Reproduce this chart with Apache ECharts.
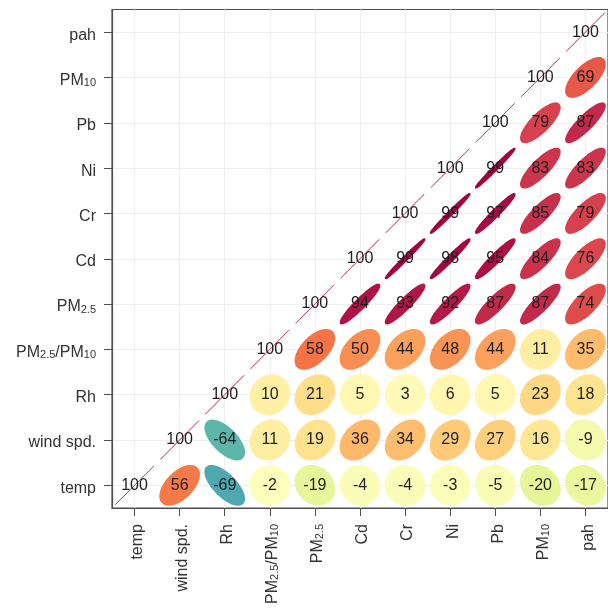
<!DOCTYPE html>
<html>
<head>
<meta charset="utf-8">
<script src="https://cdn.jsdelivr.net/npm/echarts@6/dist/echarts.min.js"></script>
<style>
  html, body { margin: 0; padding: 0; background: #ffffff; }
  #chart { width: 608px; height: 611px; }
</style>
</head>
<body>
<div id="chart"></div>
<script>
// Variable order, shared by both axes (bottom-to-top on y, left-to-right on x)
const variables = ['temp', 'wind spd.', 'Rh', 'PM2.5/PM10', 'PM2.5', 'Cd', 'Cr', 'Ni', 'Pb', 'PM10', 'pah'];

// Correlations x100: each row variable against itself and every variable to its right
const corTemp  = [100, 56, -69, -2, -19, -4, -4, -3, -5, -20, -17];
const corWind  = [100, -64, 11, 19, 36, 34, 29, 27, 16, -9];
const corRh    = [100, 10, 21, 5, 3, 6, 5, 23, 18];
const corRatio = [100, 58, 50, 44, 48, 44, 11, 35];
const corPM25  = [100, 94, 93, 92, 87, 87, 74];
const corCd    = [100, 99, 98, 95, 84, 76];
const corCr    = [100, 99, 97, 85, 79];
const corNi    = [100, 99, 83, 83];
const corPb    = [100, 79, 87];
const corPM10  = [100, 69];
const corPah   = [100];

// Reversed "Spectral" palette from -1 to +1
const spectralRev = ['#5e4fa2', '#3288bd', '#66c2a5', '#abdda4', '#e6f598', '#ffffbf',
                     '#fee08b', '#fdae61', '#f46d43', '#d53e4f', '#9e0142'];

const rows = [corTemp, corWind, corRh, corRatio, corPM25, corCd, corCr, corNi, corPb, corPM10, corPah];
const cells = [];
rows.forEach((row, i) => row.forEach((v, k) => cells.push([i + k, i, v])));

const positions = variables.map((_, i) => i);

// Turn "PM2.5" / "PM10" into rich text with subscripts
function toRich(name) {
  return name.split(/(PM2\.5|PM10)/).filter(Boolean).map(p => {
    const m = p.match(/^PM(2\.5|10)$/);
    return m ? '{n|PM}{s|' + m[1] + '}' : '{n|' + p + '}';
  }).join('');
}

const FONT = '"Liberation Sans", Arial, sans-serif';
const labelRich = {
  n: { fontSize: 16, color: '#333333', lineHeight: 22, verticalAlign: 'bottom', fontFamily: FONT },
  s: { fontSize: 11, color: '#333333', lineHeight: 11, verticalAlign: 'bottom', fontFamily: FONT }
};

// Confidence ellipse of a bivariate normal with correlation r (level 0.9, scale 0.2 cell)
const LEVEL_T = Math.sqrt(-2 * Math.log(1 - 0.9));
const SCALE = 0.2;

function renderItem(params, api) {
  const v = api.value(2);
  const c = api.coord([api.value(0), api.value(1)]);
  const sz = api.size([1, 1]);
  const r = Math.max(-1, Math.min(1, v / 100));
  const d = Math.acos(r);
  const pts = [];
  const n = 60;
  for (let k = 0; k < n; k++) {
    const a = 2 * Math.PI * k / n;
    const ex = LEVEL_T * SCALE * Math.cos(a + d / 2);
    const ey = LEVEL_T * SCALE * Math.cos(a - d / 2);
    pts.push([c[0] + ex * sz[0], c[1] - ey * sz[1]]);
  }
  const color = api.visual('color');
  const degenerate = Math.abs(r) >= 1;
  return {
    type: 'group',
    children: [
      {
        type: 'polygon', shape: { points: pts },
        style: degenerate
          ? { fill: 'none', stroke: color, lineWidth: 1, opacity: 0.5 }
          : { fill: color, stroke: color, lineWidth: 2 }
      },
      {
        type: 'text',
        style: {
          text: String(v), x: c[0], y: c[1], align: 'center', verticalAlign: 'middle',
          fill: '#1e1e1e', fontSize: 16, fontFamily: FONT
        }
      }
    ]
  };
}

function axisCommon(rotate) {
  return {
    type: 'value',
    min: -0.5,
    max: 10.5,
    axisLine: { show: true, onZero: false, lineStyle: { color: '#4d4d4d', width: 1.2 } },
    axisTick: { show: true, inside: false, length: 8, customValues: positions, lineStyle: { color: '#4d4d4d', width: 1 } },
    axisLabel: {
      customValues: positions, margin: 16, rotate: rotate,
      formatter: val => toRich(variables[Math.round(val)]),
      rich: labelRich
    },
    splitLine: { show: true, lineStyle: { color: '#eeeeee', width: 1 } }
  };
}

const chart = echarts.init(document.getElementById('chart'), null, { renderer: 'canvas' });
chart.setOption({
  animation: false,
  backgroundColor: '#ffffff',
  grid: {
    left: 112, top: 9.5, width: 499.4, height: 498.5,
    show: true, borderColor: '#4d4d4d', borderWidth: 1.2, backgroundColor: 'transparent'
  },
  xAxis: axisCommon(90),
  yAxis: axisCommon(0),
  visualMap: {
    show: false, type: 'continuous', min: -100, max: 100, dimension: 2, seriesIndex: 0,
    inRange: { color: spectralRev }
  },
  series: [{
    type: 'custom',
    renderItem: renderItem,
    data: cells,
    encode: { x: 0, y: 1 },
    clip: false
  }]
});
</script>
</body>
</html>
